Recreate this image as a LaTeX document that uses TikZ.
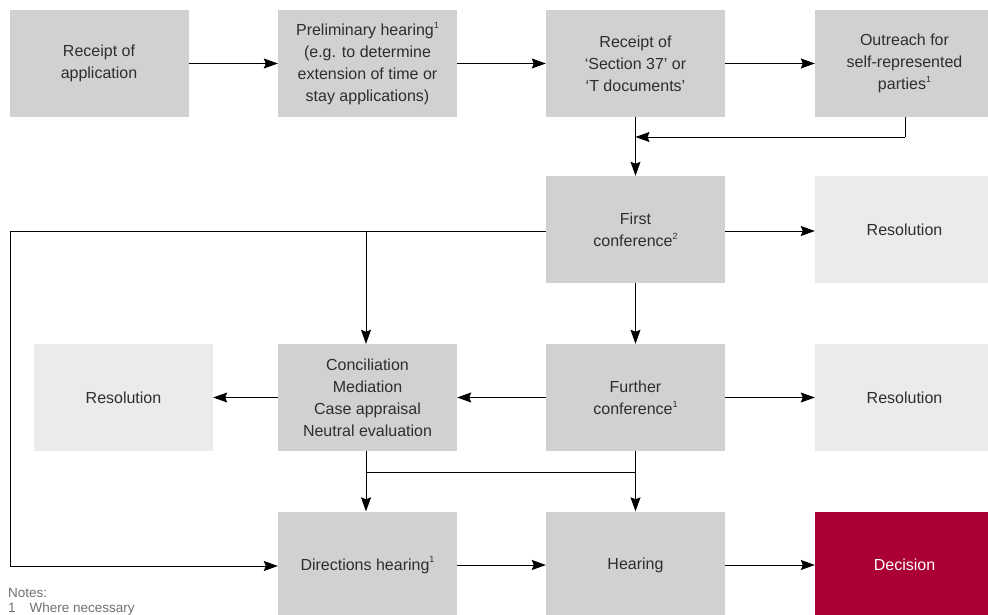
\documentclass[tikz,border=0pt]{standalone}
\usepackage{fontspec}
\setmainfont{Liberation Sans}
\usetikzlibrary{arrows.meta}
\definecolor{boxgray}{HTML}{D0D1D3}
\definecolor{lightgray}{HTML}{EBEBEB}
\definecolor{decred}{HTML}{AA0033}
\definecolor{txt}{HTML}{2E2E2E}
\definecolor{notegray}{HTML}{707070}
\newcommand{\fnm}[1]{\raisebox{0.45em}{\fontsize{9}{9}\selectfont #1}}
\tikzset{
  proc/.style={fill=boxgray, minimum width=179pt, minimum height=107pt, inner sep=0pt,
    align=center, text=txt, font=\fontsize{16}{22}\selectfont},
  res/.style={proc, fill=lightgray},
  dec/.style={proc, fill=decred, text=white},
  conn/.style={line width=0.8pt, black, -{Stealth[length=14pt,width=10pt,inset=2pt]}},
  plain/.style={line width=0.8pt, black},
  note/.style={anchor=base west, inner sep=0pt, text=notegray, font=\fontsize{13.5}{15}\selectfont}
}
\begin{document}
\begin{tikzpicture}[x=1pt,y=-1pt]
\useasboundingbox (0,0) rectangle (988,615);
\clip (0,0) rectangle (988,615);
% row 1
\node[proc] (A) at (99,63.5) {Receipt of\\application};
\node[proc] (B) at (367.5,63.5) {Preliminary hearing\fnm{1}\\(e.g. to determine\\extension of time or\\stay applications)};
\node[proc] (C) at (635.5,63.5) {Receipt of\\`Section 37' or\\`T documents'};
\node[proc] (D) at (904.5,63.5) {Outreach for\\self-represented\\parties\fnm{1}};
% row 2
\node[proc] (F1) at (635.5,229.5) {First\\conference\fnm{2}};
\node[res] (R1) at (904.5,229.5) {Resolution};
% row 3
\node[res] (R2) at (123.5,397.5) {Resolution};
\node[proc] (CMC) at (367.5,397.5) {Conciliation\\Mediation\\Case appraisal\\Neutral evaluation};
\node[proc] (FC) at (635.5,397.5) {Further\\conference\fnm{1}};
\node[res] (R3) at (904.5,397.5) {Resolution};
% row 4
\node[proc] (DH) at (367.5,565) {Directions hearing\fnm{1}};
\node[proc] (H) at (635.5,565) {Hearing};
\node[dec] (DEC) at (904.5,565) {Decision};
% notes
\node[note] (N1) at (8,597) {Notes:};
\node[note] (N2) at (8,612) {1\hspace{14pt}Where necessary};
% coordinates
\coordinate (dback) at (905,137);
\coordinate (cback) at (635.5,137);
\coordinate (leftTop) at (10,231);
\coordinate (leftBot) at (10,566);
\coordinate (branch) at (366,231);
\coordinate (merge) at (366,472);
\coordinate (mergeR) at (635.5,472);
% connectors
\draw[conn] (A) -- (B);
\draw[conn] (B) -- (C);
\draw[conn] (C) -- (D);
\draw[plain] (D.south -| dback) -- (dback);
\draw[conn] (dback) -- (cback);
\draw[conn] (C) -- (F1);
\draw[conn] (F1.east |- 0,231) -- (R1.west |- 0,231);
\draw[plain] (F1.west |- leftTop) -- (leftTop) -- (leftBot);
\draw[conn] (leftBot) -- (DH.west |- leftBot);
\draw[conn] (branch) -- (CMC.north -| branch);
\draw[conn] (F1) -- (FC);
\draw[conn] (FC) -- (CMC);
\draw[conn] (CMC) -- (R2);
\draw[conn] (FC) -- (R3);
\draw[conn] (CMC.south -| merge) -- (DH.north -| merge);
\draw[plain] (merge) -- (mergeR);
\draw[conn] (FC) -- (H);
\draw[conn] (DH) -- (H);
\draw[conn] (H) -- (DEC);
\end{tikzpicture}
\end{document}
